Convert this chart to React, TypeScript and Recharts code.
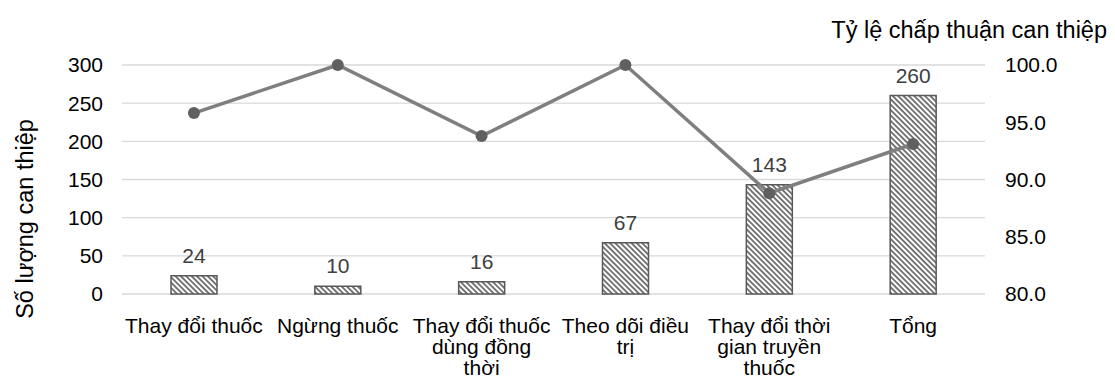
import React from "react";
import {
  ComposedChart,
  Bar,
  Line,
  XAxis,
  YAxis,
  CartesianGrid,
  LabelList,
} from "recharts";

const categories = [
  "Thay đổi thuốc",
  "Ngừng thuốc",
  "Thay đổi thuốc\ndùng đồng\nthời",
  "Theo dõi điều\ntrị",
  "Thay đổi thời\ngian truyền\nthuốc",
  "Tổng",
];
const counts = [24, 10, 16, 67, 143, 260];
const acceptance = [95.8, 100, 93.8, 100, 88.8, 93.1];
const leftTicks = [0, 50, 100, 150, 200, 250, 300];
const rightTicks = [80, 85, 90, 95, 100];
const leftTitle = "Số lượng can thiệp";
const rightTitle = "Tỷ lệ chấp thuận can thiệp";

const data = categories.map((c, i) => ({
  name: c,
  count: counts[i],
  rate: acceptance[i],
}));

const FONT = "'Liberation Sans', Arial, sans-serif";
const FS = 21;
const TITLE_FS = 23.5;

const CategoryTick = (props: any) => {
  const { x, y, payload } = props;
  const lines = String(payload.value).split("\n");
  return (
    <g transform={`translate(${x},${y})`}>
      {lines.map((l, i) => (
        <text
          key={i}
          x={0}
          y={31 + i * 21}
          textAnchor="middle"
          fontFamily={FONT}
          fontSize={FS}
          fill="#000"
        >
          {l}
        </text>
      ))}
    </g>
  );
};

export default function App() {
  return (
    <div style={{ width: 1100, height: 368, background: "#fff" }}>
      <ComposedChart
        width={1100}
        height={368}
        data={data}
        margin={{ top: 57, right: 63, left: 54, bottom: 0 }}
        style={{ overflow: "visible" }}
      >
        <defs>
          <pattern
            id="hatch"
            patternUnits="userSpaceOnUse"
            width={3.8}
            height={3.8}
            patternTransform="rotate(-45)"
          >
            <rect width={3.8} height={3.8} fill="#fff" />
            <line x1={1} y1={0} x2={1} y2={3.8} stroke="#333" strokeWidth={1.3} />
          </pattern>
        </defs>
        <CartesianGrid yAxisId="left" vertical={false} stroke="#d9d9d9" strokeWidth={1.3} />
        <XAxis
          dataKey="name"
          height={82}
          axisLine={false}
          tickLine={false}
          interval={0}
          tick={<CategoryTick />}
        />
        <YAxis
          yAxisId="left"
          width={60}
          domain={[0, 300]}
          ticks={leftTicks}
          axisLine={false}
          tickLine={false}
          tickSize={0}
          tickMargin={19}
          tick={{ fontFamily: FONT, fontSize: FS, fill: "#000" }}
          label={{
            content: () => {
              const cx = 17;
              const cy = 211;
              return (
                <text
                  x={cx}
                  y={cy}
                  transform={`rotate(-90 ${cx} ${cy})`}
                  textAnchor="middle"
                  dominantBaseline="central"
                  fontFamily={FONT}
                  fontSize={TITLE_FS}
                  fill="#000"
                >
                  {leftTitle}
                </text>
              );
            },
          }}
        />
        <YAxis
          yAxisId="right"
          orientation="right"
          width={60}
          domain={[80, 100]}
          ticks={rightTicks}
          axisLine={false}
          tickLine={false}
          tickSize={0}
          tickMargin={20}
          tickFormatter={(v: number) => v.toFixed(1)}
          tick={{ fontFamily: FONT, fontSize: FS, fill: "#000" }}
          label={{
            content: () => (
              <text
                x={1099}
                y={30}
                textAnchor="end"
                fontFamily={FONT}
                fontSize={TITLE_FS}
                fill="#000"
              >
                {rightTitle}
              </text>
            ),
          }}
        />
        <Bar
          yAxisId="left"
          dataKey="count"
          barSize={46}
          fill="url(#hatch)"
          stroke="#595959"
          strokeWidth={1.5}
          isAnimationActive={false}
        >
          <LabelList
            dataKey="count"
            position="top"
            offset={13}
            fontFamily={FONT}
            fontSize={FS}
            fill="#404040"
          />
        </Bar>
        <Line
          yAxisId="right"
          dataKey="rate"
          stroke="#7f7f7f"
          strokeWidth={3.5}
          dot={{ r: 6, fill: "#606060", stroke: "none" }}
          activeDot={false}
          isAnimationActive={false}
        />
      </ComposedChart>
    </div>
  );
}
